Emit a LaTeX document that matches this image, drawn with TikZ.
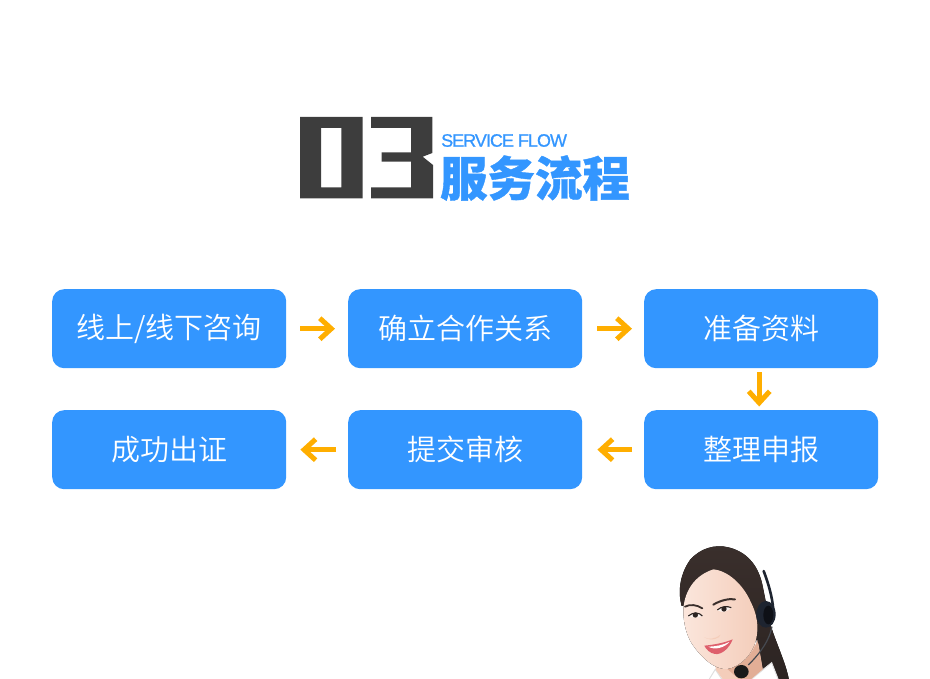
\documentclass[tikz,border=0pt]{standalone}
\usepackage{fontspec}
\setmainfont{Liberation Sans}
\newfontfamily\cjk{Noto Sans CJK SC}[BoldFont={* Black},BoldFeatures={FakeBold=0.8}]
\newfontfamily\cjklight{Noto Sans CJK SC DemiLight}
\newfontfamily\sfflow{Liberation Sans}[FakeBold=0.9,LetterSpace=-5.5]
\usetikzlibrary{arrows.meta}
\definecolor{boxblue}{HTML}{3396FF}
\definecolor{arrowgold}{HTML}{FFAE00}
\definecolor{titledark}{HTML}{3D3D3D}
\definecolor{skin}{HTML}{FBE6DC}
\definecolor{skinmid}{HTML}{F4CDBA}
\definecolor{skinshade}{HTML}{E2AE96}
\definecolor{hairdark}{HTML}{2C2422}
\definecolor{hairlight}{HTML}{3A2F2C}
\definecolor{setdark}{HTML}{1E2430}
\definecolor{lippink}{HTML}{DE5F6C}
\tikzset{
  flowbox/.style={fill=boxblue,rounded corners=12pt,minimum width=234pt,minimum height=79pt,inner sep=0pt,
    text=white,font=\cjklight\fontsize{29}{29}\selectfont,anchor=north west},
  flowarrow/.style={draw=arrowgold,line width=5pt,-{Straight Barb[length=11.5pt,width=21pt,line width=5pt]}},
}
\begin{document}
\begin{tikzpicture}[x=1pt,y=-1pt]
\useasboundingbox (0,0) rectangle (930,679);
% title digits
\fill[titledark,even odd rule] (300,117) rectangle (362.7,198.3) (321,128) rectangle (341.3,187.3);
\fill[titledark] (371,117) -- (432.3,117) -- (432.3,153) -- (422.7,156.7) -- (433,165) -- (433,198.3) -- (371,198.3) -- (371,187.3) -- (411,187.3) -- (411,161.7) -- (381.7,161.7) -- (381.7,152.3) -- (411,152.3) -- (411,128) -- (371,128) -- cycle;
\node[text=boxblue,font=\sfflow\fontsize{18}{18}\selectfont,anchor=west,inner sep=0pt] (sf) at (441,140.5) {SERVICE FLOW};
\node[text=boxblue,font=\cjk\bfseries\fontsize{47.5}{47.5}\selectfont,anchor=center,inner sep=0pt] (cn) at (535,178) {服务流程};
% boxes
\node[flowbox] (a1) at (52,289) {线上/线下咨询};
\node[flowbox] (a2) at (348,289) {确立合作关系};
\node[flowbox] (a3) at (644,289) {准备资料};
\node[flowbox] (b3) at (644,410) {整理申报};
\node[flowbox] (b2) at (348,410) {提交审核};
\node[flowbox] (b1) at (52,410) {成功出证};
% connectors
\draw[flowarrow,shorten <=14pt,shorten >=13pt] (a1) -- (a2);
\draw[flowarrow,shorten <=15pt,shorten >=12pt] (a2) -- (a3);
\draw[flowarrow,shorten <=4pt,shorten >=3.5pt] ([xshift=-2pt]a3.south) -- ([xshift=-2pt]b3.north);
\draw[flowarrow,shorten <=12pt,shorten >=15pt] (b3) -- (b2);
\draw[flowarrow,shorten <=12pt,shorten >=14pt] (b2) -- (b1);
% woman (coordinates in thirds of a pixel)
\begin{scope}[shift={(640,530)},x=0.3333pt,y=-0.3333pt]
\clip (0,0) rectangle (510,447);
% back hair
\fill[top color=hairlight,bottom color=hairdark] (125,228) .. controls (112,180) and (122,130) .. (150,90) .. controls (180,55) and (225,42) .. (265,52) .. controls (320,65) and (352,105) .. (365,155) .. controls (378,210) and (385,270) .. (400,310) .. controls (420,365) and (440,410) .. (447,450) -- (365,450) -- (350,330) -- (250,200) -- cycle;
% blouse
\fill[white] (205,450) -- (226,418) -- (250,450) -- cycle;
\fill[white] (325,450) -- (395,398) -- (416,450) -- cycle;
\draw[gray!25,line width=1pt] (208,447) -- (226,418) -- (245,447) (335,447) -- (395,398) -- (414,447);
% neck
\fill[skinmid] (225,400) -- (228,420) -- (250,450) -- (330,450) -- (368,418) -- (355,340) -- cycle;
\fill[skinshade] (262,417) .. controls (300,410) and (340,375) .. (352,330) -- (368,418) -- (330,450) -- (300,450) -- cycle;
% face
\fill[left color=skin,right color=skinmid] (130,250) .. controls (128,205) and (150,140) .. (220,118) .. controls (265,122) and (310,165) .. (332,215) .. controls (350,250) and (356,285) .. (350,320) .. controls (340,375) and (300,410) .. (262,417) .. controls (225,420) and (185,385) .. (155,340) .. controls (140,315) and (132,285) .. (130,250) -- cycle;
% features
\fill[skinmid] (193,322) .. controls (205,330) and (228,326) .. (242,314) .. controls (240,325) and (215,335) .. (193,322) -- cycle;
\draw[hairlight,line width=1.8pt,line cap=round] (135,230) .. controls (150,222) and (170,224) .. (187,235);
\draw[hairlight,line width=2pt,line cap=round] (220,224) .. controls (240,212) and (265,205) .. (285,208);
\fill[white!85!skinshade] (145,258) .. controls (160,245) and (178,247) .. (187,258) .. controls (172,264) and (155,264) .. (145,258) -- cycle;
\fill[white!85!skinshade] (232,240) .. controls (245,228) and (262,228) .. (274,233) .. controls (262,245) and (245,250) .. (232,240) -- cycle;
\fill[hairdark] (166,255) circle [radius=8];
\fill[hairdark] (252,237) circle [radius=8];
\draw[hairdark,line width=1.1pt] (145,258) .. controls (160,245) and (178,247) .. (187,258);
\draw[hairdark,line width=1.1pt] (232,240) .. controls (245,228) and (262,228) .. (274,233);
\fill[lippink] (193,347) .. controls (215,345) and (250,340) .. (278,328) .. controls (268,355) and (245,375) .. (225,372) .. controls (210,370) and (198,358) .. (193,347) -- cycle;
\fill[white!92!skin] (205,350) .. controls (225,350) and (250,345) .. (268,336) .. controls (255,352) and (225,362) .. (205,350) -- cycle;
% headset
\draw[setdark,line width=2.6pt,line cap=round] (371,123) .. controls (385,160) and (397,200) .. (400,240);
\fill[setdark] (378,253) ellipse [x radius=29,y radius=40];
\fill[black!55!setdark] (385,255) ellipse [x radius=15,y radius=28];
\draw[setdark!60!gray,line width=1.2pt] (396,290) .. controls (388,330) and (365,365) .. (325,405);
\fill[black!90] (304,425) ellipse [x radius=22,y radius=20];
\end{scope}
\end{tikzpicture}
\end{document}
